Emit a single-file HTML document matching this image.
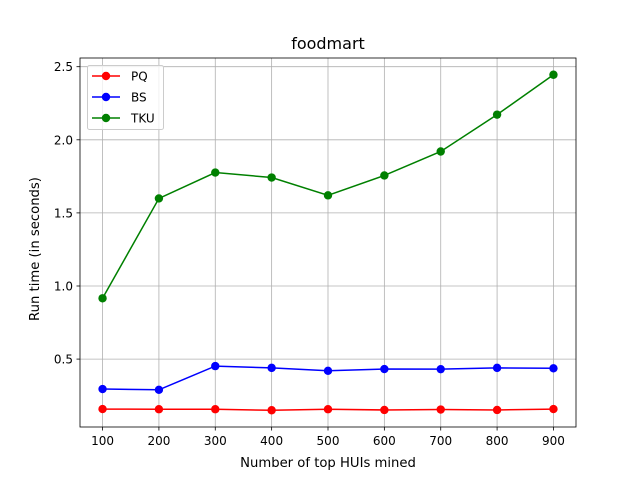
<!DOCTYPE html>
<html><head><meta charset="utf-8"><style>
body{margin:0;background:#fff;}
svg text{font-family:"DejaVu Sans","Liberation Sans",sans-serif;fill:#000;}
</style></head><body>
<svg id="chart" width="640" height="480" xmlns="http://www.w3.org/2000/svg">
<rect width="640" height="480" fill="#fff"/>
<g id="grid"></g>
<g id="series"></g>
<rect x="80" y="58" width="496" height="369" fill="none" stroke="#000" stroke-width="0.8"/>
<g id="ticks"></g>
<text x="328" y="49" font-size="16" text-anchor="middle">foodmart</text>
<text x="328" y="467" font-size="13.2" text-anchor="middle">Number of top HUIs mined</text>
<text x="0" y="0" font-size="13.2" text-anchor="middle" transform="translate(39,249) rotate(-90)">Run time (in seconds)</text>
<g id="legend">
<rect x="87.5" y="65.5" width="76" height="64" rx="2" fill="#fff" fill-opacity="0.8" stroke="#ccc"/>
</g>
</svg>
<script>
const categories=[100,200,300,400,500,600,700,800,900];
const pqValues=[0.158,0.157,0.157,0.150,0.157,0.152,0.155,0.152,0.158];
const bsValues=[0.295,0.290,0.452,0.440,0.420,0.432,0.431,0.440,0.437];
const tkuValues=[0.916,1.599,1.776,1.742,1.620,1.756,1.920,2.172,2.445];
const seriesNames=["PQ","BS","TKU"];
const seriesColors=["#ff0000","#0000ff","#008000"];
const xTicks=[100,200,300,400,500,600,700,800,900];
const yTicks=[0.5,1.0,1.5,2.0,2.5];
const yTickLabels=["0.5","1.0","1.5","2.0","2.5"];
const NS="http://www.w3.org/2000/svg";
const X=v=>80+(v-60)/880*496;
const Y=v=>427-(v-0.0355)/(2.5595-0.0355)*369;
function mk(tag,attrs,parent){const e=document.createElementNS(NS,tag);for(const k in attrs)e.setAttribute(k,attrs[k]);parent.appendChild(e);return e;}
const grid=document.getElementById('grid'),ticks=document.getElementById('ticks'),ser=document.getElementById('series'),leg=document.getElementById('legend');
xTicks.forEach(t=>{const x=X(t);
 const g=mk('line',{x1:x,x2:x,y1:58,y2:427,stroke:'#b0b0b0','stroke-width':0.8},grid);
 
 
 mk('line',{x1:x,x2:x,y1:427,y2:430.5,stroke:'#000','stroke-width':0.8},ticks);
 const tx=mk('text',{x:x,y:445,'font-size':12,'text-anchor':'middle'},ticks);tx.textContent=t;
 
 
});
yTicks.forEach((t,i)=>{const y=Y(t);
 const g=mk('line',{x1:80,x2:576,y1:y,y2:y,stroke:'#b0b0b0','stroke-width':0.8},grid);
 
 
 mk('line',{x1:76.5,x2:80,y1:y,y2:y,stroke:'#000','stroke-width':0.8},ticks);
 const tx=mk('text',{x:73,y:y+4.5,'font-size':12,'text-anchor':'end'},ticks);tx.textContent=yTickLabels[i];
 
 
});
[pqValues,bsValues,tkuValues].forEach((vals,si)=>{
 const c=seriesColors[si];
 const pl=mk('polyline',{points:vals.map((v,i)=>X(categories[i])+','+Y(v)).join(' '),fill:'none',stroke:c,'stroke-width':1.5},ser);
 
 
 vals.forEach((v,i)=>{const p=mk('circle',{cx:X(categories[i]),cy:Y(v),r:4.2,fill:c},ser);
  
  });
 const ly=76+si*21;
 const e=mk('g',{},leg);
 
 
 mk('line',{x1:92,x2:120,y1:ly,y2:ly,stroke:c,'stroke-width':1.5},e);
 mk('circle',{cx:106,cy:ly,r:4.2,fill:c},e);
 const t=mk('text',{x:131,y:ly+4.5,'font-size':12},e);t.textContent=seriesNames[si];
});
</script>
</body></html>
